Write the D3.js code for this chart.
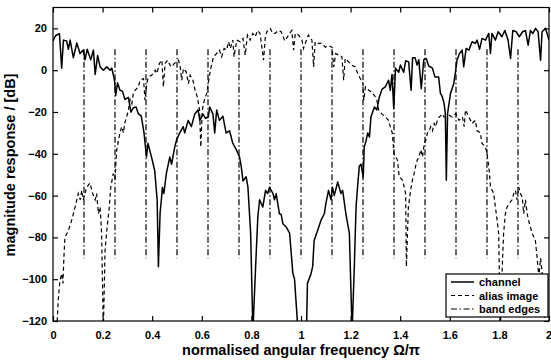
<!DOCTYPE html>
<html><head><meta charset="utf-8">
<script src="https://cdn.jsdelivr.net/npm/d3@7"></script>
<style>
body{margin:0;background:#fff;}
text{font-family:"Liberation Sans",Arial,Helvetica,sans-serif;font-weight:bold;fill:#000;}
</style></head>
<body><svg id="c" width="551" height="362"></svg>
<script>
const xTicks = [0,0.2,0.4,0.6,0.8,1,1.2,1.4,1.6,1.8,2];
const yTicks = [-120,-100,-80,-60,-40,-20,0,20];
const bandEdges = [0.125,0.25,0.375,0.5,0.625,0.75,0.875,1,1.125,1.25,1.375,1.5,1.625,1.75,1.875];
const bandEdgeRange = [-90,10];
const legendLabels = ["channel","alias image","band edges"];

const chanFreq = [0,0.01,0.026,0.035,0.042,0.055,0.062,0.069,0.082,0.096,0.109,0.122,0.129,0.138,0.152,0.163,0.17,0.18,0.19,0.203,0.217,0.23,0.237,0.248,0.253,0.26,0.27,0.28,0.29,0.304,0.314,0.324,0.335,0.344,0.356,0.367,0.377,0.383,0.397,0.41,0.42,0.425,0.432,0.437,0.441,0.447,0.457,0.471,0.478,0.491,0.498,0.511,0.525,0.531,0.545,0.558,0.572,0.585,0.592,0.605,0.615,0.626,0.632,0.645,0.652,0.66,0.671,0.685,0.698,0.712,0.725,0.739,0.752,0.759,0.766,0.779,0.786,0.797,0.806,0.817,0.826,0.833,0.846,0.857,0.866,0.873,0.887,0.893,0.9,0.913,0.92,0.927,0.94,0.954,0.967,0.974,0.988,1.022,1.026,1.04,1.047,1.053,1.067,1.08,1.094,1.1,1.111,1.121,1.127,1.134,1.148,1.161,1.168,1.181,1.195,1.206,1.215,1.222,1.228,1.235,1.242,1.251,1.255,1.262,1.269,1.276,1.282,1.296,1.306,1.316,1.327,1.34,1.353,1.36,1.367,1.374,1.381,1.394,1.401,1.414,1.422,1.434,1.444,1.45,1.46,1.468,1.475,1.485,1.495,1.505,1.515,1.53,1.54,1.555,1.562,1.57,1.577,1.582,1.586,1.591,1.603,1.616,1.623,1.629,1.639,1.65,1.656,1.666,1.677,1.69,1.703,1.71,1.72,1.73,1.744,1.757,1.764,1.77,1.784,1.795,1.81,1.822,1.835,1.845,1.854,1.868,1.88,1.894,1.905,1.916,1.925,1.935,1.946,1.956,1.966,1.972,1.986,2];
const chanDb = [14,16.5,17.5,1,14.4,14,10,14.4,6,13,8,9.6,5,10,5,9.6,-2,7,1.6,0,1.6,0,1,-4.8,-12,-6,-9.6,-10,-14,-13,-20,-18,-17.6,-20.8,-22,-30,-41.5,-35,-41.5,-48,-62,-94,-68,-62,-56,-59,-49.5,-41.5,-45,-36.7,-33.5,-30,-27,-30,-24,-27,-20.8,-19,-24,-21,-23,-22.4,-17.6,-21,-30,-19,-24,-22,-30,-29,-35,-38,-41.5,-46,-53,-51,-56,-78,-125,-94,-70,-62,-65.5,-57.5,-59,-56,-59,-62,-59,-68.7,-69,-73.5,-75,-78,-97,-100,-125,-125,-102,-97.5,-94,-81.5,-76.7,-72,-68.7,-64,-57.5,-62,-56,-60,-53.5,-59,-57.5,-68.7,-78,-125,-94,-65.5,-56,-46,-45,-51,-36.7,-34,-30,-32,-22.4,-17.6,-19,-12.8,-9,-8,-4.8,-9.6,-2,-18.4,1,-1,2.5,-1,4.5,4,-9.6,6,6,2.5,5,-8.8,5,5.6,2,1,-3.2,-3.2,-11,-12.8,-16,-20.8,-52.7,-20.8,-11,-6.4,-0.8,4.8,8,9.6,1.6,10.4,9.6,13.6,12.8,14.4,10,15.2,14.4,17.6,8,17.6,14.4,18.4,16,19,14.4,5.6,19,18.4,16,18.4,19,12,19,17.6,20,18.4,4.8,18.4,20,14.4];

const aliasFreq = [0,0.015,0.021,0.028,0.035,0.04,0.044,0.048,0.062,0.075,0.082,0.089,0.102,0.11,0.116,0.122,0.136,0.149,0.16,0.17,0.176,0.183,0.19,0.196,0.203,0.21,0.217,0.227,0.233,0.243,0.25,0.257,0.264,0.27,0.277,0.284,0.29,0.297,0.304,0.311,0.318,0.324,0.331,0.344,0.351,0.365,0.371,0.378,0.385,0.398,0.412,0.419,0.429,0.439,0.445,0.452,0.462,0.472,0.479,0.489,0.499,0.506,0.513,0.519,0.526,0.537,0.546,0.553,0.564,0.573,0.582,0.591,0.596,0.602,0.61,0.62,0.63,0.636,0.647,0.66,0.671,0.68,0.69,0.7,0.708,0.715,0.725,0.73,0.741,0.755,0.766,0.775,0.784,0.795,0.806,0.815,0.825,0.835,0.849,0.856,0.862,0.876,0.886,0.896,0.908,0.92,0.935,0.95,0.963,0.97,0.977,0.99,1.004,1.01,1.017,1.03,1.044,1.051,1.057,1.071,1.084,1.098,1.111,1.125,1.132,1.14,1.152,1.165,1.172,1.178,1.192,1.205,1.219,1.226,1.239,1.25,1.253,1.26,1.273,1.286,1.3,1.306,1.313,1.327,1.34,1.353,1.36,1.368,1.375,1.389,1.396,1.41,1.416,1.422,1.425,1.433,1.442,1.449,1.456,1.462,1.469,1.476,1.483,1.49,1.497,1.503,1.51,1.517,1.523,1.53,1.537,1.543,1.55,1.557,1.564,1.57,1.577,1.597,1.61,1.624,1.637,1.651,1.658,1.663,1.677,1.69,1.703,1.71,1.723,1.73,1.744,1.75,1.757,1.76,1.764,1.771,1.777,1.784,1.791,1.797,1.804,1.811,1.817,1.824,1.831,1.838,1.851,1.858,1.865,1.871,1.878,1.885,1.892,1.898,1.905,1.912,1.918,1.925,1.932,1.945,1.952,1.959,1.966,1.972,1.985,2];
const aliasDb = [-125,-125,-110,-100.6,-97.4,-102,-89.5,-80,-76.7,-72,-68.7,-65.5,-59,-62,-57.5,-62,-56,-54,-59,-62,-59,-68.7,-65.5,-78,-125,-86,-76.7,-65.5,-56,-49.5,-52,-38,-33.5,-30,-27,-30,-25,-22.4,-19,-14,-16,-11,-9.6,-8,-4.8,-4,-14.4,-6.4,-3.2,-2.4,0,-1.6,3.2,4.8,-8,3.2,4.8,2.4,1.6,3.2,4,4.8,1.6,-4.8,0.8,-0.8,-6.4,-2.4,-4.8,-9.6,-12.8,-19,-36.7,-19,-14.4,-11,-3.2,0.8,6.4,8,9.6,6.4,10.4,9.6,13.6,10.4,14.4,6.4,14.4,13.6,15.2,7.2,16.8,14.4,17.6,16,19,17.6,4.8,16,18.4,20,17.6,17.6,19,18.4,14,16.8,19,9.6,17.6,16.8,14.4,10.4,12.8,16.8,14.4,1.6,13.6,12.8,12.8,11,11.8,11,1.6,8,7.2,6.4,-4.8,5.6,4,2.4,1.6,-0.8,-4,-6.4,-14.4,-8,-9.6,-10.4,-12.8,-14.4,-19,-21,-22.4,-24,-27,-30,-40,-43,-51,-52.7,-56,-59,-94,-65.5,-57.5,-52.7,-49.5,-46,-43,-41.5,-38,-41.5,-35,-33.5,-30,-29,-27,-29,-25.5,-27,-24,-22.4,-21.7,-21,-22.4,-21.5,-22.4,-20.8,-24,-22.4,-27,-19,-22.4,-25.5,-24,-29,-30,-35,-36.7,-40,-46,-49.5,-56,-57.5,-59,-65.5,-72,-78,-125,-96,-78,-68.7,-65.5,-64,-62,-59,-57.5,-62,-56,-59,-60.7,-68.7,-62,-68.7,-72,-75,-78,-81.5,-89.5,-99,-90,-96,-125,-125];

const W=551,H=362;
const m={l:53,r:549,t:7.5,b:321};
const svg=d3.select("#c");
const x=d3.scaleLinear().domain([0,2]).range([m.l,m.r]);
const y=d3.scaleLinear().domain([-120,30]).range([m.b,m.t]);

svg.append("defs").append("clipPath").attr("id","clip")
  .append("rect").attr("x",m.l).attr("y",m.t).attr("width",m.r-m.l).attr("height",m.b-m.t);

const plot=svg.append("g").attr("clip-path","url(#clip)");

plot.selectAll("line.be").data(bandEdges).enter().append("line")
  .attr("x1",d=>x(d)).attr("x2",d=>x(d))
  .attr("y1",y(bandEdgeRange[1])).attr("y2",y(bandEdgeRange[0]))
  .attr("stroke","#000").attr("stroke-width",1.2).attr("stroke-dasharray","6,2.5,1.5,2.5");

const line=d3.line().x(d=>x(d[0])).y(d=>y(d[1]));
const chan=chanFreq.map((f,i)=>[f,chanDb[i]]);
const alias=aliasFreq.map((f,i)=>[f,aliasDb[i]]);

plot.append("path").datum(alias).attr("d",line).attr("fill","none")
  .attr("stroke","#000").attr("stroke-width",1.2).attr("stroke-dasharray","4,3");
plot.append("path").datum(chan).attr("d",line).attr("fill","none")
  .attr("stroke","#000").attr("stroke-width",1.5).attr("stroke-linejoin","round");

svg.append("rect").attr("x",m.l).attr("y",m.t).attr("width",m.r-m.l).attr("height",m.b-m.t)
  .attr("fill","none").attr("stroke","#000").attr("stroke-width",1.2);

const ax=svg.append("g").attr("transform",`translate(0,${m.b})`)
  .call(d3.axisBottom(x).tickValues(xTicks).tickSize(-5).tickPadding(10).tickFormat(d3.format("")));
const axT=svg.append("g").attr("transform",`translate(0,${m.t})`)
  .call(d3.axisTop(x).tickValues(xTicks).tickSize(-5).tickFormat(""));
const ay=svg.append("g").attr("transform",`translate(${m.l},0)`)
  .call(d3.axisLeft(y).tickValues(yTicks).tickSize(-5).tickPadding(6));
const ayR=svg.append("g").attr("transform",`translate(${m.r},0)`)
  .call(d3.axisRight(y).tickValues(yTicks).tickSize(-5).tickFormat(""));
[ax,axT,ay,ayR].forEach(g=>{
  g.select(".domain").remove();
  g.selectAll("line").attr("stroke","#000").attr("stroke-width",1.2);
  g.selectAll("text").style("font-size","11px").style("font-family","'Liberation Sans',Arial,sans-serif").style("font-weight","bold");
});
// keep last x label inside the canvas
ax.selectAll(".tick").filter(d=>d===2).select("text").attr("text-anchor","end").attr("dx","2.5");

svg.append("text").attr("x",301).attr("y",355).attr("text-anchor","middle")
  .style("font-size","14.5px").text("normalised angular frequency Ω/π");
svg.append("text").attr("transform","translate(15,165) rotate(-90)").attr("text-anchor","middle")
  .style("font-size","14.5px").text("magnitude response / [dB]");

const lg=svg.append("g");
lg.append("rect").attr("x",446).attr("y",274).attr("width",102).attr("height",43)
  .attr("fill","#fff").attr("stroke","#000").attr("stroke-width",1.2);
const dashes=[null,"4,3","6,2.5,1.5,2.5"];
const widths=[1.5,1.2,1.2];
legendLabels.forEach((t,i)=>{
  const yy=282+i*13.5;
  lg.append("line").attr("x1",451).attr("x2",474).attr("y1",yy).attr("y2",yy)
    .attr("stroke","#000").attr("stroke-width",widths[i]).attr("stroke-dasharray",dashes[i]);
  lg.append("text").attr("x",479).attr("y",yy+4).style("font-size","11px").text(t);
});
</script></body></html>
